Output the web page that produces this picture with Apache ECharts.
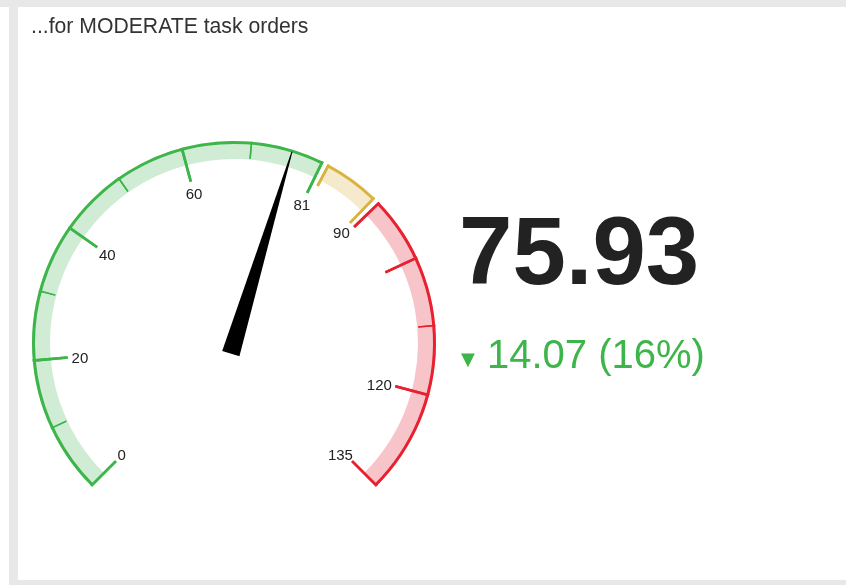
<!DOCTYPE html>
<html lang="en">
<head>
    <title>Moderate task orders</title>
    <meta charset="UTF-8">
    <script src="https://cdn.jsdelivr.net/npm/echarts@6/dist/echarts.min.js"></script>
    <style>
        html, body { margin: 0; padding: 0; background: #fff; }
        .strip { position: absolute; background: #e8e8e8; }
        #top { left: 0; top: 0; width: 846px; height: 7px; }
        #side { left: 9px; top: 0; width: 9px; height: 585px; }
        #bottom { left: 9px; top: 580px; width: 837px; height: 5px; }
        #main { position: absolute; left: 0; top: 0; width: 846px; height: 585px; }
    </style>
</head>
<body>
    <div class="strip" id="top"></div>
    <div class="strip" id="side"></div>
    <div class="strip" id="bottom"></div>
    <div id="main"></div>

    <script>
        // values
        var chartTitle = '...for MODERATE task orders';
        var scaleMax = 135;
        var bandStops = [0, 81, 90, 135];
        var majorTicks = [0, 20, 40, 60, 81, 90, 100, 120, 135];
        var minorTicks = [10, 30, 50, 70, 110];
        var tickLabels = [0, 20, 40, 60, 81, 90, 120, 135];
        var currentValue = 75.93;
        var change = 14.07;
        var changePct = 16;

        // look
        var font = 'Liberation Sans, Arial, sans-serif';
        var center = [234, 343];
        var R = 202;
        var START = 225, END = -45, GAP = 1;
        var LABEL_FS = 15;
        var bandLook = [
            { dark: '#3db54a', light: '#d0ecd4', startLen: 35 },
            { dark: '#dcb23e', light: '#f5eacb', startLen: 24 },
            { dark: '#e9202f', light: '#f7c4ca', startLen: 35 }
        ];
        var green = '#3db54a';

        function ang(v) {
            return START + (END - START) * v / scaleMax;
        }

        var off = {
            splitLine: { show: false }, axisTick: { show: false }, axisLabel: { show: false },
            pointer: { show: false }, anchor: { show: false }, title: { show: false }, detail: { show: false }
        };

        function ring(a0, a1, lo, hi, width, color) {
            return Object.assign({}, off, {
                type: 'gauge', center: center, radius: R, startAngle: a0, endAngle: a1, min: lo, max: hi,
                axisLine: { show: true, lineStyle: { width: width, color: [[1, color]] } },
                data: []
            });
        }

        // gauge puts the label at the tick end with a fixed align rule;
        // pad the rich token so the text box sits just inside the tick end
        function labelPadding(a, v) {
            var t = a * Math.PI / 180;
            var ux = Math.cos(t), uy = -Math.sin(t);
            var w = String(v).length * 0.556 * LABEL_FS, h = LABEL_FS;
            var dx = -ux * (4 + w / 2), dy = -uy * (4 + 7.5) + 2.5;
            var p = [0, 0, 0, 0];
            if (ux < -0.4) p[3] = dx - w / 2;
            else if (ux > 0.4) p[1] = -dx - w / 2;
            else if (dx > 0) p[3] = 2 * dx; else p[1] = -2 * dx;
            if (uy < -0.8) p[0] = dy - h / 2;
            else if (uy > 0.8) p[2] = -dy - h / 2;
            else if (dy > 0) p[0] = 2 * dy; else p[2] = -2 * dy;
            return p;
        }

        function tick(a, v, len, width, color, withLabel) {
            return Object.assign({}, off, {
                type: 'gauge', center: center, radius: R, startAngle: a, endAngle: a - 0.001,
                min: v, max: v + 1, splitNumber: 1,
                axisLine: { show: false, lineStyle: { width: 0 } },
                splitLine: { show: true, distance: 0, length: len, lineStyle: { color: color, width: width } },
                axisLabel: {
                    show: withLabel, distance: 0, color: '#222', fontSize: LABEL_FS, fontFamily: font,
                    rich: {
                        p: { padding: labelPadding(a, v), color: '#222', fontSize: LABEL_FS, fontFamily: font }
                    },
                    formatter: function (x) { return x === v ? '{p|' + v + '}' : ''; }
                },
                data: []
            });
        }

        var series = [];
        var bands = [];
        for (var i = 0; i < bandStops.length - 1; i++) {
            var lo = bandStops[i], hi = bandStops[i + 1];
            bands.push({
                lo: lo, hi: hi,
                a0: ang(lo) - (i > 0 ? GAP : 0),
                a1: ang(hi) + (i < bandStops.length - 2 ? GAP : 0),
                look: bandLook[i]
            });
        }
        bands.forEach(function (b) {
            series.push(ring(b.a0, b.a1, b.lo, b.hi, 18, b.look.light));
        });
        bands.forEach(function (b) {
            series.push(ring(b.a0, b.a1, b.lo, b.hi, 3, b.look.dark));
        });

        function angleIn(b, v) {
            if (v === b.lo) return b.a0;
            if (v === b.hi) return b.a1;
            return ang(v);
        }

        minorTicks.forEach(function (m) {
            bands.forEach(function (b) {
                if (m > b.lo && m < b.hi) series.push(tick(angleIn(b, m), m, 17, 1.5, b.look.dark, false));
            });
        });

        var labelled = {};
        bands.forEach(function (b) {
            majorTicks.forEach(function (v) {
                if (v < b.lo || v > b.hi) return;
                var len = (v === b.lo && b.lo > 0) ? b.look.startLen : 35;
                var withLabel = tickLabels.indexOf(v) >= 0 && !labelled[v];
                if (withLabel) labelled[v] = true;
                series.push(tick(angleIn(b, v), v, len, 2.6, b.look.dark, withLabel));
            });
        });

        series.push(Object.assign({}, off, {
            type: 'gauge', center: center, radius: R, startAngle: START, endAngle: END,
            min: 0, max: scaleMax,
            axisLine: { show: false, lineStyle: { width: 0 } },
            pointer: {
                show: true, icon: 'path://M-0.5,0L0.5,0L9,100L-9,100Z', keepAspect: false,
                length: 211, width: 18, offsetCenter: [0, 11],
                itemStyle: { color: '#000' }
            },
            data: [{ value: currentValue }]
        }));

        var myChart = echarts.init(document.getElementById('main'));
        myChart.setOption({
            animation: false,
            textStyle: { fontFamily: font },
            title: [
                { text: chartTitle, left: 31, top: 17, padding: 0,
                  textStyle: { fontSize: 21.2, fontWeight: 'normal', color: '#333', fontFamily: font } },
                { text: currentValue.toFixed(2), left: 459, top: 210, padding: 0,
                  textStyle: { fontSize: 96, fontWeight: 'bold', color: '#222', fontFamily: font } },
                { text: '\u25BC', left: 461, top: 351, padding: 0,
                  textStyle: { fontSize: 18, fontWeight: 'normal', color: green, fontFamily: 'DejaVu Sans' } },
                { text: change.toFixed(2) + ' (' + changePct + '%)', left: 487, top: 337, padding: 0,
                  textStyle: { fontSize: 40, fontWeight: 'normal', color: green, fontFamily: font } }
            ],
            series: series
        });
    </script>
</body>
</html>
